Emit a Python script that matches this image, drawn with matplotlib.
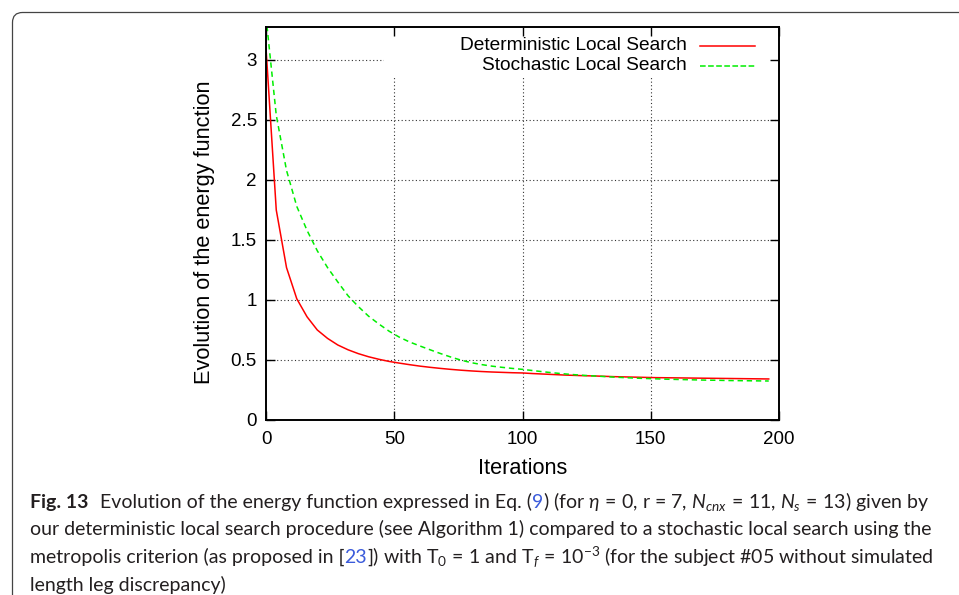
import matplotlib
matplotlib.use("Agg")
import matplotlib.pyplot as plt
from matplotlib.patches import FancyBboxPatch, Rectangle
from matplotlib.transforms import IdentityTransform

plt.rcParams["font.family"] = ["Liberation Sans", "DejaVu Sans"]
plt.rcParams["mathtext.fontset"] = "custom"
plt.rcParams["mathtext.rm"] = "Lato"
plt.rcParams["mathtext.it"] = "Lato:italic"
plt.rcParams["mathtext.bf"] = "Lato:bold"

# ---- data ----
iterations = [0, 4, 8, 12, 16, 20, 24, 28, 32, 36, 40, 44, 48, 52, 56, 60,
              64, 68, 72, 76, 80, 84, 88, 92, 96, 100, 104, 108, 112, 116,
              120, 124, 128, 132, 136, 140, 144, 148, 152, 156, 160, 164,
              168, 172, 176, 180, 184, 188, 192, 196]
deterministic = [3.10, 1.75, 1.27, 1.01, 0.86, 0.75, 0.68, 0.625, 0.585,
                 0.553, 0.527, 0.506, 0.488, 0.474, 0.461, 0.449, 0.439,
                 0.430, 0.422, 0.415, 0.409, 0.404, 0.400, 0.397, 0.394,
                 0.392, 0.387, 0.383, 0.379, 0.375, 0.372, 0.369, 0.367,
                 0.364, 0.361, 0.359, 0.357, 0.355, 0.353, 0.352, 0.351,
                 0.350, 0.349, 0.348, 0.347, 0.346, 0.345, 0.344, 0.343,
                 0.342]
stochastic = [3.36, 2.54, 2.08, 1.78, 1.58, 1.41, 1.27, 1.15, 1.035, 0.945,
              0.865, 0.80, 0.74, 0.69, 0.65, 0.617, 0.585, 0.554, 0.525,
              0.499, 0.478, 0.462, 0.449, 0.439, 0.430, 0.422, 0.412, 0.402,
              0.393, 0.385, 0.378, 0.372, 0.367, 0.362, 0.357, 0.353, 0.349,
              0.346, 0.343, 0.340, 0.338, 0.336, 0.334, 0.332, 0.331, 0.329,
              0.328, 0.327, 0.326, 0.325]
series_labels = ["Deterministic Local Search", "Stochastic Local Search"]
xticks = [0, 50, 100, 150, 200]
yticks = [0, 0.5, 1, 1.5, 2, 2.5, 3]
ytick_labels = ["0", "0.5", "1", "1.5", "2", "2.5", "3"]

W, H = 959, 595
fig = plt.figure(figsize=(W / 100, H / 100), dpi=100)
ax = fig.add_axes([266 / W, 1 - 420 / H, 513 / W, 393 / H])

# dotted grid (gnuplot style), below everything
for v in xticks[1:-1]:
    ax.axvline(v, color="#333333", lw=0.8, ls=(0, (1, 2.2)), zorder=0.5)
for v in yticks[1:]:
    ax.axhline(v, color="#333333", lw=0.8, ls=(0, (1, 2.2)), zorder=0.5)

# opaque key box hides grid behind the legend
ax.add_patch(Rectangle((0.23, 0.8715), 0.77, 0.1285, transform=ax.transAxes,
                       facecolor="white", edgecolor="none", zorder=1))

l1, = ax.plot(iterations, deterministic, color="#ff0000", lw=1.1, zorder=2)
l2, = ax.plot(iterations, stochastic, color="#00ee00", lw=1.1,
              ls=(0, (3.5, 2.5)), zorder=2)

ax.set_xlim(0, 200)
ax.set_ylim(0, 3.275)
ax.set_xticks(xticks)
ax.set_yticks(yticks)
ax.set_yticklabels(ytick_labels)
ax.tick_params(direction="in", length=6.5, width=1.0, top=True, right=True,
               labelsize=13.5, colors="black")
ax.tick_params(axis="x", pad=8)
ax.tick_params(axis="y", pad=6.5)
for s in ax.spines.values():
    s.set_linewidth(1.4)
    s.set_zorder(3)
ax.set_xlabel("Iterations", fontsize=15.7, labelpad=7)
ax.set_ylabel("Evolution of the energy function", fontsize=15.7, labelpad=11)
ax.yaxis.label.set_y(0.477)

# key: right-aligned text, sample on the right
key_y = [0.9517, 0.9015]
for line, lab, ky in zip([l1, l2], series_labels, key_y):
    ax.text(0.820, ky, lab, transform=ax.transAxes, ha="right", va="center",
            fontsize=13.8, zorder=4)
    ax.plot([0.846, 0.953], [ky, ky], transform=ax.transAxes,
            color=line.get_color(), lw=line.get_linewidth(),
            ls=line.get_linestyle(), zorder=4, clip_on=False)

# journal frame around figure + caption
frame = FancyBboxPatch((12.5, -60), 1100, H - 12.5 + 60,
                       boxstyle="round,pad=0,rounding_size=10",
                       transform=IdentityTransform(), facecolor="none",
                       edgecolor="#444444", lw=0.9, clip_on=False)
fig.add_artist(frame)

# caption
cap_font = ["Lato", "DejaVu Sans"]
cap_color = "#231f20"
link_color = "#3b5bdb"
caption_lines = [
    [("Fig. 13", "bold", cap_color), (10, None, None),
     ("Evolution of the energy function expressed in Eq. (", "normal", cap_color),
     ("9", "normal", link_color),
     (r") (for $\eta\,=\,0$, r = 7, $N_{cnx}\,=\,11$, $N_s\,=\,13$) given by",
      "normal", cap_color)],
    [("our deterministic local search procedure (see Algorithm 1) compared "
      "to a stochastic local search using the", "normal", cap_color)],
    [("metropolis criterion (as proposed in [", "normal", cap_color),
     ("23", "normal", link_color),
     (r"]) with $\mathrm{T}_0\,=\,1$ and $\mathrm{T}_f\,=\,10^{-3}$ (for the "
      "subject #05 without simulated", "normal", cap_color)],
    [("length leg discrepancy)", "normal", cap_color)],
]
baselines = [508, 535.5, 563, 590.5]
renderer = fig.canvas.get_renderer()


def put_line(chunks, y_px, size, scale=1.0):
    x_px = 30
    made = []
    for text, weight, color in chunks:
        if weight is None:
            x_px += text * scale
            continue
        t = fig.text(x_px / W, 1 - y_px / H, text, fontsize=size,
                     fontweight=weight, color=color, family=cap_font,
                     ha="left", va="baseline")
        x_px += t.get_window_extent(renderer).width
        made.append(t)
    return made, x_px - 30


# fit caption size so the plain second line spans the frame width
base = 12.0
tmp, w = put_line(caption_lines[1], baselines[1], base)
for t in tmp:
    t.remove()
size = base * 898 / w
for chunks, y in zip(caption_lines, baselines):
    put_line(chunks, y, size, size / base)

fig.savefig("out.png", dpi=100)
